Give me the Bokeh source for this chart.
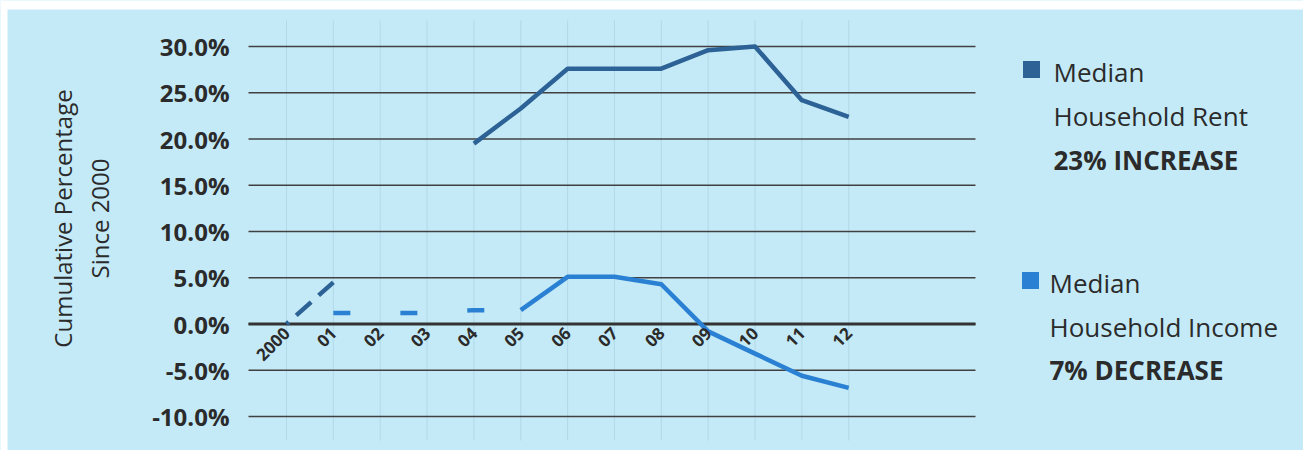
import math
from bokeh.plotting import figure
from bokeh.models import Range1d
from bokeh.core.properties import value
from bokeh.embed import file_html
from bokeh.resources import INLINE

nan = float("nan")

# ---------------- data ----------------
categories = ["2000", "01", "02", "03", "04", "05", "06", "07", "08", "09", "10", "11", "12"]
rent = [0.0, 4.5, nan, nan, 19.5, 23.3, 27.6, 27.6, 27.6, 29.6, 30.0, 24.2, 22.4]
income = [nan, 1.2, 1.2, 1.2, 1.5, 1.5, 5.1, 5.1, 4.3, -0.8, -3.2, -5.6, -6.9]
rent_dashed_idx = (0, 1)      # segment drawn dashed
income_dashed_idx = (1, 5)    # segment drawn dashed
y_ticks = [-10, -5, 0, 5, 10, 15, 20, 25, 30]
y_tick_labels = ["-10.0%", "-5.0%", "0.0%", "5.0%", "10.0%", "15.0%", "20.0%", "25.0%", "30.0%"]
rent_legend = ["Median", "Household Rent", "23% INCREASE"]
income_legend = ["Median", "Household Income", "7% DECREASE"]
y_title = ["Cumulative Percentage", "Since 2000"]

# ---------------- styles / layout (pixels) ----------------
W, H = 1303, 450
BG = "#c4eaf7"
RENT_C = "#2c6295"
INC_C = "#2a80d2"
TXT = "#2b2b2b"
FONT = "Open Sans"
X0_PX, X_STEP = 286.0, 46.85      # pixel of first category, pixels per category
Y0_PX, Y_STEP = 323.5, 9.25       # pixel of 0 %, pixels per 1 %
PLOT_L, PLOT_R, PLOT_T, PLOT_B = 248, 975, 20, 440


def xd(px):
    return (px - X0_PX) / X_STEP


def yd(py):
    return (Y0_PX - py) / Y_STEP


xs = list(range(len(categories)))

p = figure(width=W, height=H, output_backend="svg", toolbar_location=None,
           x_range=Range1d(xd(0), xd(W)), y_range=Range1d(yd(H), yd(0)),
           x_axis_type=None, y_axis_type=None,
           min_border=0, min_border_left=0, min_border_right=0,
           min_border_top=0, min_border_bottom=0)
p.background_fill_color = BG
p.border_fill_color = BG
p.outline_line_color = None
p.grid.visible = False

# white scan margins (top / left)
p.quad(left=[xd(0), xd(0)], right=[xd(W), xd(7)], top=[yd(0), yd(0)], bottom=[yd(9), yd(H)],
       fill_color="white", line_color=None)

# faint vertical grid at categories
p.segment(x0=xs, x1=xs, y0=[yd(PLOT_T)] * len(xs), y1=[yd(PLOT_B)] * len(xs),
          line_color="#9cc6d6", line_alpha=0.45, line_width=1)

# horizontal grid
p.segment(x0=[xd(PLOT_L)] * len(y_ticks), x1=[xd(PLOT_R)] * len(y_ticks),
          y0=y_ticks, y1=y_ticks, line_color="#404040", line_width=1.6)
p.segment(x0=[xd(PLOT_L)], x1=[xd(PLOT_R)], y0=[0], y1=[0], line_color="#333333", line_width=3)

# y tick labels
p.text(x=[xd(229)] * len(y_ticks), y=y_ticks, text=y_tick_labels, text_align="right",
       text_baseline="middle", text_font=value(FONT), text_font_size="24px",
       text_font_style="bold", text_color=TXT)

# y axis title (two centred lines, rotated)
p.text(x=[xd(62), xd(99)], y=[yd(218), yd(218)], text=y_title, angle=math.pi / 2,
       text_align="center", text_baseline="middle", text_font=value(FONT),
       text_font_size="24px", text_color=TXT)


def seg(vals, a, b):
    return xs[a:b + 1], vals[a:b + 1]


# rent
rx, ry = seg(rent, *rent_dashed_idx)
p.line(rx, ry, line_color=RENT_C, line_width=4.5, line_dash="20 10", line_dash_offset=17)
rx2, ry2 = seg(rent, rent_dashed_idx[1], len(rent) - 1)
p.line(rx2, ry2, line_color=RENT_C, line_width=4.5, line_join="round")
# income
ix, iy = seg(income, *income_dashed_idx)
p.line(ix, iy, line_color=INC_C, line_width=4.5, line_dash="17 50")
ix2, iy2 = seg(income, income_dashed_idx[1], len(income) - 1)
p.line(ix2, iy2, line_color=INC_C, line_width=4.5, line_join="round")

# category labels along the zero line
p.text(x=xs, y=[0] * len(xs), text=categories, angle=math.pi / 4, text_align="right",
       text_baseline="middle", x_offset=0, y_offset=6, text_font=value(FONT),
       text_font_size="17px", text_font_style="bold", text_color=TXT)

# legend
p.rect(x=[xd(1031), xd(1030)], y=[yd(69), yd(280)], width=17, height=17,
       width_units="screen", height_units="screen", fill_color=[RENT_C, INC_C], line_color=None)


def legend_text(lines, px, pys):
    for i, (t, py) in enumerate(zip(lines, pys)):
        p.text(x=[xd(px)], y=[yd(py)], text=[t], text_font=value(FONT), text_font_size="26px",
               text_color=TXT, text_baseline="middle", text_align="left",
               text_font_style="bold" if i == 2 else "normal")


legend_text(rent_legend, 1053, [71, 115, 159])
legend_text(income_legend, 1049, [282, 326, 369])

open("out.html", "w").write(file_html(p, INLINE))
